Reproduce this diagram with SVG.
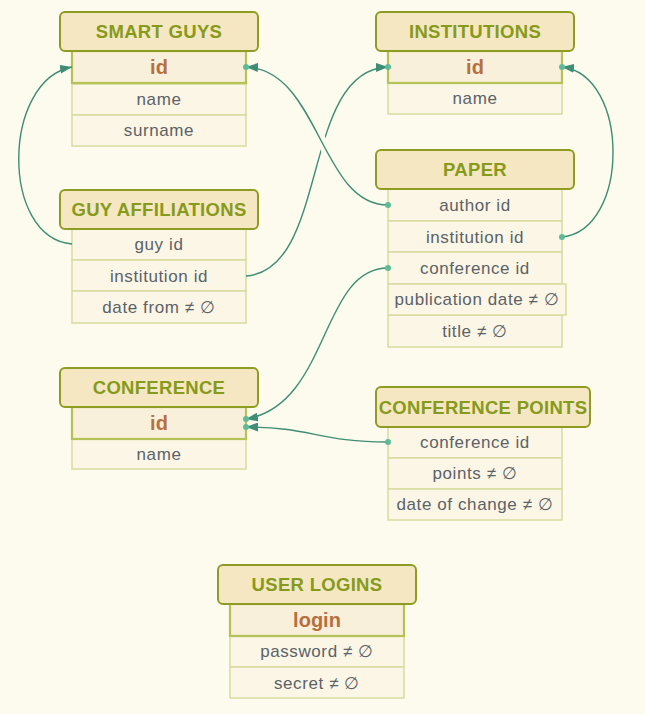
<svg xmlns="http://www.w3.org/2000/svg" width="645" height="714" viewBox="0 0 645 714">
<style>
.bg{fill:#FDFAEE}
.hd{fill:#F5E7C1;stroke:#8E9C21;stroke-width:2}
.ht{font-family:"Liberation Sans",Arial,sans-serif;font-weight:bold;font-size:18.5px;letter-spacing:0.3px;fill:#869A1C;text-anchor:middle}
.kr{fill:#F8F0DA;stroke:#B5C255;stroke-width:2.2}
.kt{font-family:"Liberation Sans",Arial,sans-serif;font-weight:bold;font-size:20px;fill:#B86F3E;text-anchor:middle}
.rw{fill:#FBF6E6;stroke:#D7DC9E;stroke-width:1.5}
.rt{font-family:"Liberation Sans",Arial,sans-serif;font-size:17px;letter-spacing:0.6px;fill:#5C6267;text-anchor:middle}
.cn{fill:none;stroke:#3E8D74;stroke-width:1.4}
.dt{fill:#5DBB98}
</style>
<defs>
<marker id="ar" markerWidth="12" markerHeight="9" refX="12" refY="4.5" orient="auto" markerUnits="userSpaceOnUse">
<path d="M0,0 L12,4.5 L0,9 z" fill="#3E8D74"/>
</marker>
<mask id="gap" maskUnits="userSpaceOnUse" x="0" y="0" width="645" height="714">
<rect x="0" y="0" width="645" height="714" fill="#fff"/>
<path d="M388,205 C320,205 320,70 248,67" fill="none" stroke="#000" stroke-width="10"/>
</mask>
</defs>
<rect class="bg" x="0" y="0" width="645" height="714"/>

<g id="smart-guys">
<rect class="rw" x="72" y="84" width="174" height="31"/>
<rect class="rw" x="72" y="115" width="174" height="31"/>
<rect class="kr" x="72" y="51" width="174" height="32"/>
<rect class="hd" x="60" y="12" width="198" height="39" rx="5"/>
<text class="ht" x="159" y="38">SMART GUYS</text>
<text class="kt" x="159" y="74">id</text>
<text class="rt" x="159" y="105">name</text>
<text class="rt" x="159" y="136">surname</text>
</g>

<g id="guy-affiliations">
<rect class="rw" x="72" y="229" width="174" height="31"/>
<rect class="rw" x="72" y="260" width="174" height="31"/>
<rect class="rw" x="72" y="291" width="174" height="32"/>
<rect class="hd" x="60" y="190" width="198" height="39" rx="5"/>
<text class="ht" x="159" y="216">GUY AFFILIATIONS</text>
<text class="rt" x="159" y="250">guy id</text>
<text class="rt" x="159" y="282">institution id</text>
<text class="rt" x="159" y="313">date from ≠ ∅</text>
</g>

<g id="institutions">
<rect class="rw" x="388" y="83" width="174" height="31"/>
<rect class="kr" x="388" y="51" width="174" height="32"/>
<rect class="hd" x="376" y="12" width="198" height="39" rx="5"/>
<text class="ht" x="475" y="38">INSTITUTIONS</text>
<text class="kt" x="475" y="74">id</text>
<text class="rt" x="475" y="104">name</text>
</g>

<g id="paper">
<rect class="rw" x="388" y="189" width="174" height="32"/>
<rect class="rw" x="388" y="221" width="174" height="31"/>
<rect class="rw" x="388" y="252" width="174" height="32"/>
<rect class="rw" x="388" y="315" width="174" height="32"/>
<rect class="rw" x="388" y="284" width="178" height="31"/>
<rect class="hd" x="376" y="150" width="198" height="39" rx="5"/>
<text class="ht" x="475" y="176">PAPER</text>
<text class="rt" x="475" y="211">author id</text>
<text class="rt" x="475" y="243">institution id</text>
<text class="rt" x="475" y="274">conference id</text>
<text class="rt" x="477" y="305">publication date ≠ ∅</text>
<text class="rt" x="475" y="337">title ≠ ∅</text>
</g>

<g id="conference">
<rect class="rw" x="72" y="439" width="174" height="30"/>
<rect class="kr" x="72" y="407" width="174" height="32"/>
<rect class="hd" x="60" y="368" width="198" height="39" rx="5"/>
<text class="ht" x="159" y="394">CONFERENCE</text>
<text class="kt" x="159" y="430">id</text>
<text class="rt" x="159" y="460">name</text>
</g>

<g id="conference-points">
<rect class="rw" x="388" y="427" width="174" height="31"/>
<rect class="rw" x="388" y="458" width="174" height="31"/>
<rect class="rw" x="388" y="489" width="174" height="31"/>
<rect class="hd" x="376" y="387" width="214" height="40" rx="5"/>
<text class="ht" x="483" y="414">CONFERENCE POINTS</text>
<text class="rt" x="475" y="448">conference id</text>
<text class="rt" x="475" y="479">points ≠ ∅</text>
<text class="rt" x="475" y="510">date of change ≠ ∅</text>
</g>

<g id="user-logins">
<rect class="rw" x="230" y="636" width="174" height="31"/>
<rect class="rw" x="230" y="667" width="174" height="31"/>
<rect class="kr" x="230" y="604" width="174" height="32"/>
<rect class="hd" x="218" y="565" width="198" height="39" rx="5"/>
<text class="ht" x="317" y="591">USER LOGINS</text>
<text class="kt" x="317" y="627">login</text>
<text class="rt" x="317" y="657">password ≠ ∅</text>
<text class="rt" x="317" y="689">secret ≠ ∅</text>
</g>

<g id="connectors">
<path class="cn" d="M72,244 C0,238 2,80 72,67" marker-end="url(#ar)"/>
<path class="cn" d="M246,276 C330,270 300,70 388,67" marker-end="url(#ar)" mask="url(#gap)"/>
<path class="cn" d="M388,205 C320,205 320,70 246,67" marker-end="url(#ar)"/>
<path class="cn" d="M562,237 C630,230 630,75 562,67" marker-end="url(#ar)"/>
<path class="cn" d="M388,268 C320,268 330,405 246,419" marker-end="url(#ar)"/>
<path class="cn" d="M388,442 C320,442 310,427 246,427" marker-end="url(#ar)"/>
<circle class="dt" cx="246" cy="67" r="3"/>
<circle class="dt" cx="388" cy="67" r="3"/>
<circle class="dt" cx="562" cy="67" r="3"/>
<circle class="dt" cx="388" cy="205" r="3"/>
<circle class="dt" cx="562" cy="237" r="3"/>
<circle class="dt" cx="388" cy="268" r="3"/>
<circle class="dt" cx="246" cy="419" r="3"/>
<circle class="dt" cx="246" cy="427" r="3"/>
<circle class="dt" cx="388" cy="442" r="3"/>
</g>
</svg>
